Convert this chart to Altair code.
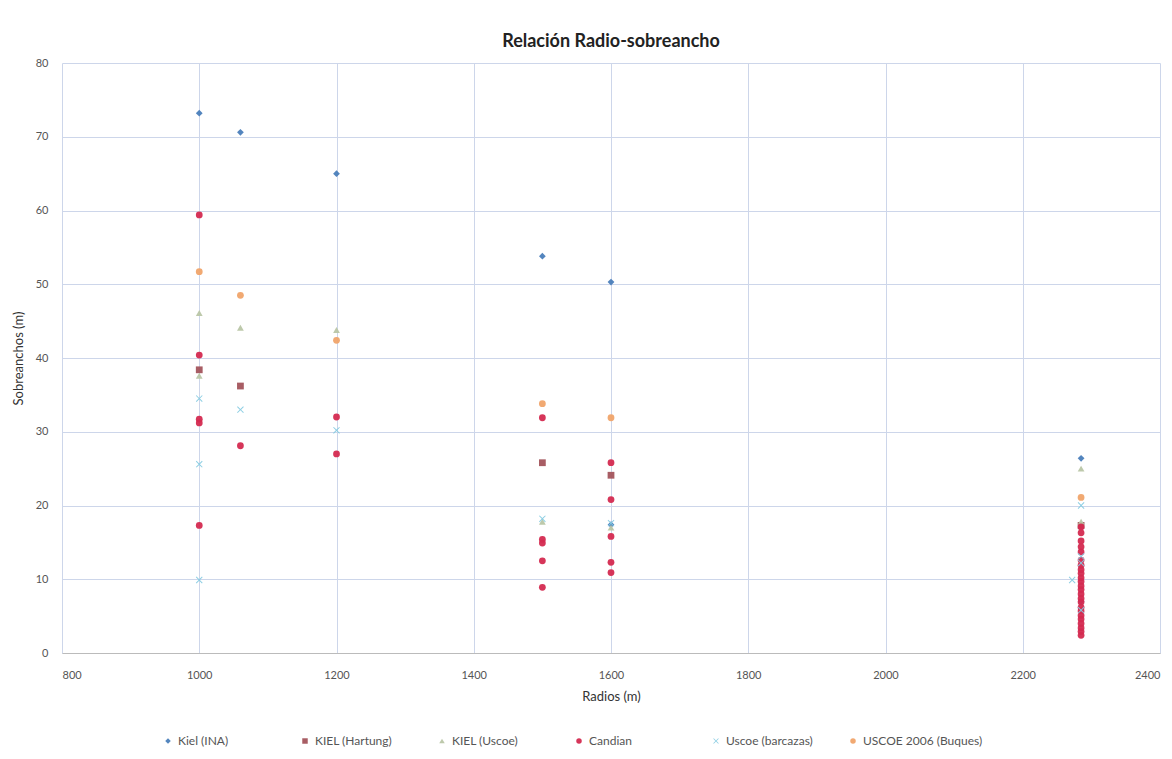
import altair as alt
import pandas as pd

series_names = ["Kiel (INA)", "KIEL (Hartung)", "KIEL (Uscoe)", "Candian",
                "Uscoe (barcazas)", "USCOE 2006 (Buques)"]

kiel_ina_x = [1000, 1060, 1200, 1500, 1600, 1600, 2285, 2285]
kiel_ina_y = [73.2, 70.6, 65.0, 53.8, 50.3, 17.4, 26.4, 7.0]

hartung_x = [1000, 1060, 1500, 1600, 2285]
hartung_y = [38.4, 36.2, 25.8, 24.1, 17.3]

kiel_uscoe_x = [1000, 1000, 1060, 1200, 1500, 1600, 2285, 2285]
kiel_uscoe_y = [46.1, 37.6, 44.1, 43.8, 17.8, 17.0, 25.0, 17.8]

candian_x = [1000, 1000, 1000, 1000, 1000, 1060, 1200, 1200,
             1500, 1500, 1500, 1500, 1500,
             1600, 1600, 1600, 1600, 1600] + [2285] * 24
candian_y = [59.4, 40.4, 31.7, 31.2, 17.3, 28.1, 32.0, 27.0,
             31.9, 15.4, 14.9, 12.5, 8.9,
             25.8, 20.8, 15.8, 12.3, 10.9,
             17.1, 16.3, 15.2, 14.4, 13.7, 12.6, 11.9, 11.3, 10.8, 10.2,
             9.7, 9.1, 8.6, 8.0, 7.4, 6.9, 6.2, 5.7, 5.1, 4.6, 4.0, 3.4, 2.9, 2.4]

barcazas_x = [1000, 1000, 1000, 1060, 1200, 1500, 1600, 2285, 2285, 2285, 2285, 2272]
barcazas_y = [34.5, 25.6, 9.9, 33.0, 30.2, 18.2, 17.6, 20.0, 13.1, 12.2, 5.8, 9.9]

buques_x = [1000, 1060, 1200, 1500, 1600, 2285]
buques_y = [51.7, 48.5, 42.4, 33.8, 31.9, 21.1]

x_ticks = [800, 1000, 1200, 1400, 1600, 1800, 2000, 2200, 2400]
y_ticks = [0, 10, 20, 30, 40, 50, 60, 70, 80]

colors = ["#4a7ebb", "#a3545c", "#b9c6a6", "#d42a50", "#86cbe2", "#f0a46a"]
xshape = "M-0.8,-1L0,-0.2L0.8,-1L1,-0.8L0.2,0L1,0.8L0.8,1L0,0.2L-0.8,1L-1,0.8L-0.2,0L-1,-0.8Z"
shapes = ["diamond", "square", "triangle-up", "circle", xshape, "circle"]

rows = []
for name, xs, ys in zip(series_names,
                        [kiel_ina_x, hartung_x, kiel_uscoe_x, candian_x, barcazas_x, buques_x],
                        [kiel_ina_y, hartung_y, kiel_uscoe_y, candian_y, barcazas_y, buques_y]):
    for xv, yv in zip(xs, ys):
        rows.append({"Serie": name, "Radio": xv, "Sobreancho": yv})
df = pd.DataFrame(rows)

FONT = "Lato"

chart = alt.Chart(df).mark_point(filled=True, size=46, opacity=0.95).encode(
    x=alt.X("Radio:Q", title="Radios (m)",
            scale=alt.Scale(domain=[800, 2400], nice=False, zero=False),
            axis=alt.Axis(values=x_ticks, format="d", labelFontSize=11, labelColor="#555",
                          titleFontSize=13, titleFontWeight="normal", titleColor="#333",
                          titlePadding=10, grid=True, gridColor="#cdd6ea", domainColor="#bbbbbb",
                          ticks=False, labelPadding=16)),
    y=alt.Y("Sobreancho:Q", title="Sobreanchos (m)",
            scale=alt.Scale(domain=[0, 80], nice=False),
            axis=alt.Axis(values=y_ticks, labelFontSize=11, labelColor="#555",
                          titleFontSize=13, titleFontWeight="normal", titleColor="#333",
                          titlePadding=10, grid=True, gridColor="#cdd6ea", domain=False,
                          ticks=False, labelPadding=14)),
    color=alt.Color("Serie:N", scale=alt.Scale(domain=series_names, range=colors),
                    sort=series_names,
                    legend=alt.Legend(title=None, orient="none", legendX=100, legendY=672,
                                      direction="horizontal", columns=6, columnPadding=1,
                                      gridAlign="all",
                                      labelFontSize=12, labelColor="#555", symbolSize=30,
                                      labelFont=FONT)),
    shape=alt.Shape("Serie:N", scale=alt.Scale(domain=series_names, range=shapes),
                    sort=series_names, legend=None),
).properties(
    width=1098, height=590,
    title=alt.TitleParams("Relación Radio-sobreancho", fontSize=18, fontWeight="bold",
                          font=FONT, color="#222", offset=6, anchor="middle"),
    autosize=alt.AutoSizeParams(type="none"),
    padding={"left": 54, "top": 55, "right": 4, "bottom": 100},
).configure_view(stroke=None).configure_axis(labelFont=FONT, titleFont=FONT)

chart.save("out.html", embed_options={"renderer": "svg", "actions": False})
